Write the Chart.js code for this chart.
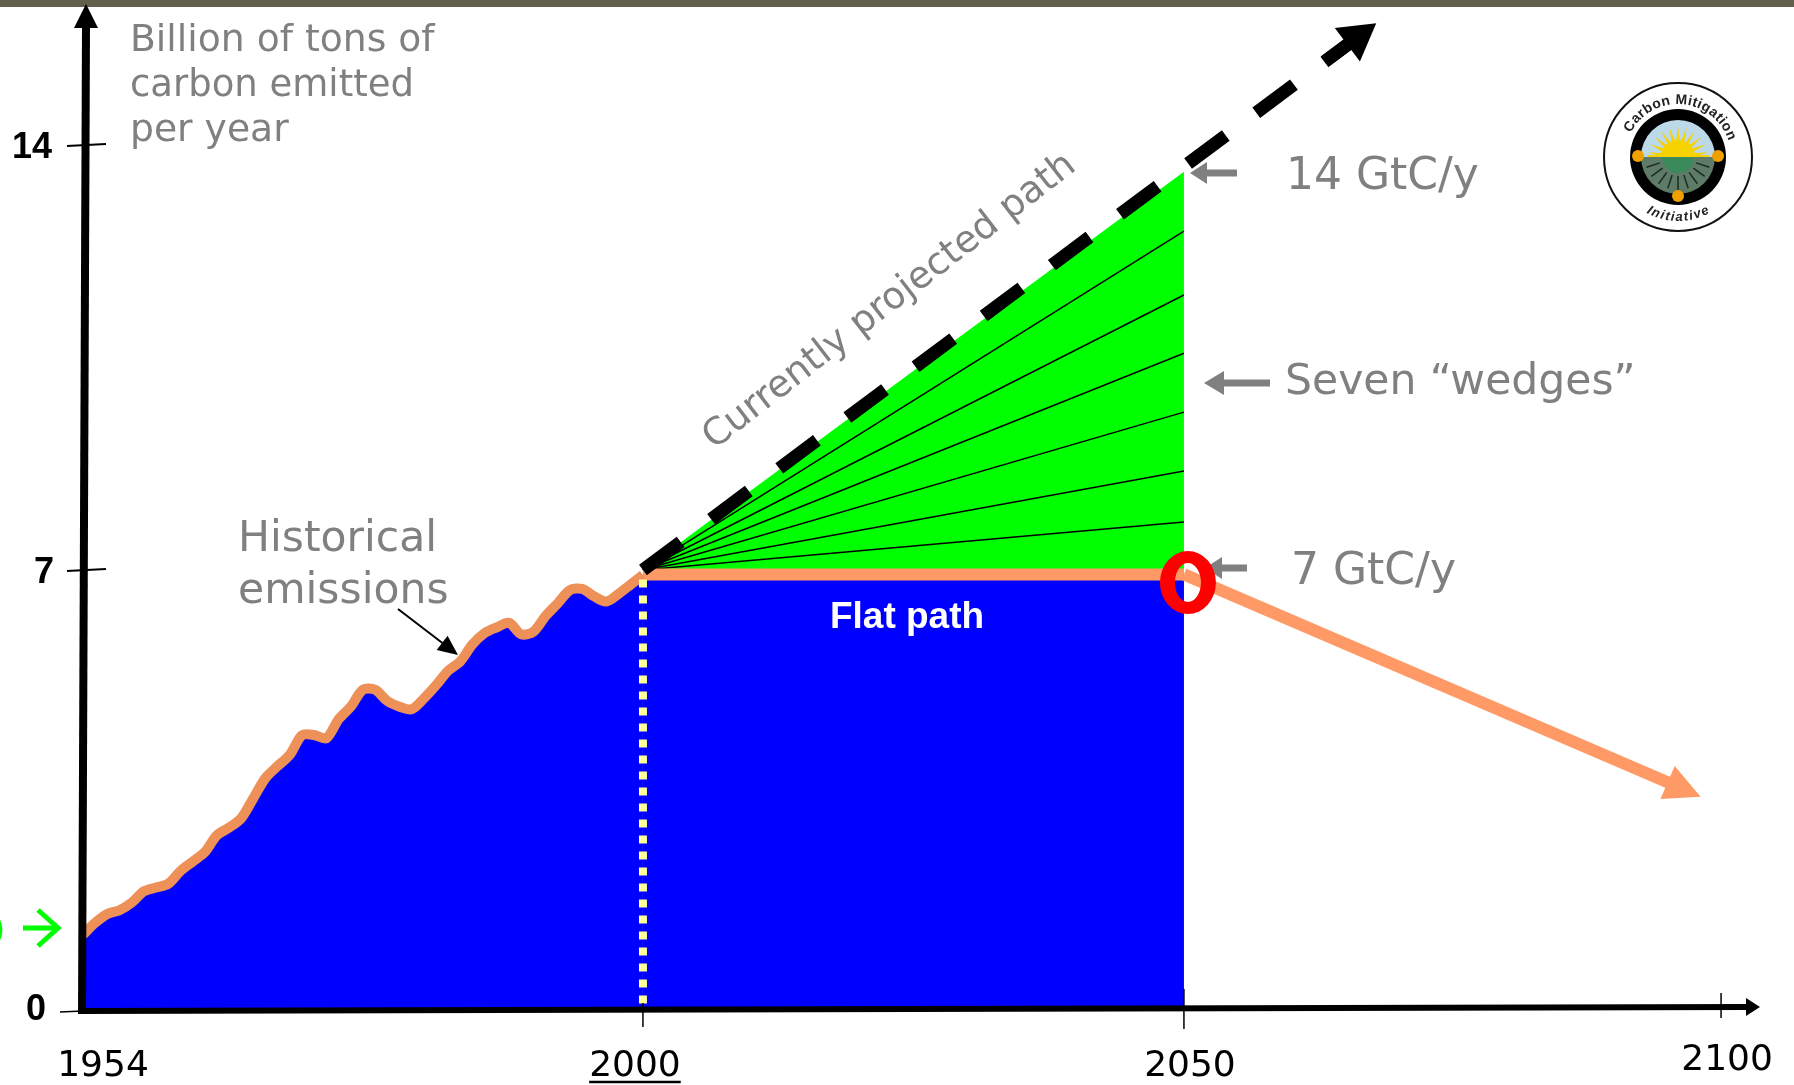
<!DOCTYPE html>
<html>
<head>
<meta charset="utf-8">
<title>Carbon wedges</title>
<style>
  html, body { margin: 0; padding: 0; background: #fff; }
  canvas { display: block; }
</style>
<script src="https://cdn.jsdelivr.net/npm/chart.js@4"></script>
</head>
<body>
<canvas id="myChart" width="1794" height="1085"></canvas>
<script>
const years = [1954, 1955, 1956, 1957, 1958, 1959, 1960, 1961, 1962, 1963, 1964, 1965, 1966, 1967, 1968, 1969,
  1970, 1971, 1972, 1973, 1974, 1975, 1976, 1977, 1978, 1979, 1980, 1981, 1982, 1983, 1984, 1985, 1986, 1987,
  1988, 1989, 1990, 1991, 1992, 1993, 1994, 1995, 1996, 1997, 1998, 1999, 2000]
const historical = [1.21, 1.4, 1.54, 1.6, 1.72, 1.9, 1.96, 2.02, 2.22, 2.37, 2.52, 2.79, 2.91, 3.06, 3.38, 3.7,
  3.89, 4.07, 4.38, 4.38, 4.33, 4.63, 4.83, 5.1, 5.1, 4.92, 4.83, 4.79, 4.96, 5.17, 5.4, 5.55, 5.82, 6.0,
  6.09, 6.16, 5.98, 6.02, 6.27, 6.47, 6.68, 6.7, 6.58, 6.5, 6.62, 6.77, 6.92]

const wedgeYears = [2000, 2050]
const wedgeEnds = [12.58, 11.53, 10.57, 9.6, 8.63, 7.79]
const wedgeStart = 7
const projectedTop = 13.56

const dashYears = [2000, 2067.9]
const dashValues = [7, 16]

const flatYears = [2000, 2050]
const flatValues = [6.93, 6.93]

const declineYears = [2050, 2096]
const declineValues = [6.93, 3.56]
const declineTip = [2098.1, 3.4]

const dottedYears = [2000, 2000]
const dottedValues = [6.85, 0.1]

const xTickYears = [1954, 2000, 2050, 2100]
const yTicks = [0, 7, 14]

const xAnchors = [1954, 2000, 2050, 2100, 2103.7]
const xStops = [0, 0.3337, 0.6561, 0.9762, 1]
const yAnchors = [0, 7, 14, 16.3]
const yStops = [0, 0.4384, 0.8608, 1]

const GRAY = '#808080'
const ORANGE = '#ff9966'
const HIST_ORANGE = '#ee9158'
const SANS = '"DejaVu Sans"'
const BOLD = '"Liberation Sans"'

function stopFraction(value, anchors, stops) {
  let i = 0
  while (i < anchors.length - 2 && value > anchors[i + 1]) i++
  const t = (value - anchors[i]) / (anchors[i + 1] - anchors[i])
  return stops[i] + t * (stops[i + 1] - stops[i])
}

// the picture's axes are not linear: each stretch between ticks has its own length
class AnchoredScale extends Chart.LinearScale {
  getPixelForValue(value) {
    const { anchors, stops } = this.options
    const f = stopFraction(value, anchors, stops)
    return this.isHorizontal() ? this.left + f * this.width : this.bottom - f * this.height
  }
}
AnchoredScale.id = 'anchored'
AnchoredScale.defaults = Chart.LinearScale.defaults
Chart.register(AnchoredScale)

function pairs(xs, ys) {
  return xs.map((x, i) => ({ x, y: ys[i] }))
}

function arrowHead(ctx, x0, y0, x1, y1, length, halfWidth, color) {
  const a = Math.atan2(y1 - y0, x1 - x0)
  ctx.save()
  ctx.translate(x1, y1)
  ctx.rotate(a)
  ctx.fillStyle = color
  ctx.beginPath()
  ctx.moveTo(0, 0)
  ctx.lineTo(-length, -halfWidth)
  ctx.lineTo(-length, halfWidth)
  ctx.closePath()
  ctx.fill()
  ctx.restore()
}

function arrow(ctx, x0, y0, x1, y1, width, length, halfWidth, color) {
  const a = Math.atan2(y1 - y0, x1 - x0)
  ctx.strokeStyle = color
  ctx.lineWidth = width
  ctx.lineCap = 'butt'
  ctx.beginPath()
  ctx.moveTo(x0, y0)
  ctx.lineTo(x1 - Math.cos(a) * length * 0.9, y1 - Math.sin(a) * length * 0.9)
  ctx.stroke()
  arrowHead(ctx, x0, y0, x1, y1, length, halfWidth, color)
}

function segment(ctx, x0, y0, x1, y1, width, color) {
  ctx.strokeStyle = color
  ctx.lineWidth = width
  ctx.beginPath()
  ctx.moveTo(x0, y0)
  ctx.lineTo(x1, y1)
  ctx.stroke()
}

function text(ctx, str, x, y, font, color, align) {
  ctx.font = font
  ctx.fillStyle = color
  ctx.textAlign = align || 'left'
  ctx.textBaseline = 'alphabetic'
  ctx.fillText(str, x, y)
}

function arcText(ctx, str, cx, cy, r, midAngle, gap, bottom) {
  ctx.textAlign = 'center'
  ctx.textBaseline = 'alphabetic'
  const chars = str.split('')
  const sweeps = chars.map((c) => (ctx.measureText(c).width + gap) / r)
  const total = sweeps.reduce((a, b) => a + b, 0)
  let run = -total / 2
  chars.forEach((c, i) => {
    const off = run + sweeps[i] / 2
    run += sweeps[i]
    const a = bottom ? midAngle - off : midAngle + off
    ctx.save()
    ctx.translate(cx + r * Math.cos(a), cy + r * Math.sin(a))
    ctx.rotate(bottom ? a - Math.PI / 2 : a + Math.PI / 2)
    ctx.fillText(c, 0, 0)
    ctx.restore()
  })
}

function drawLogo(ctx, cx, cy) {
  ctx.save()
  ctx.fillStyle = '#fff'
  ctx.strokeStyle = '#111'
  ctx.lineWidth = 2
  ctx.beginPath()
  ctx.arc(cx, cy, 74, 0, Math.PI * 2)
  ctx.fill()
  ctx.stroke()

  ctx.fillStyle = '#000'
  ctx.beginPath()
  ctx.arc(cx, cy, 48, 0, Math.PI * 2)
  ctx.fill()

  ctx.save()
  ctx.beginPath()
  ctx.arc(cx, cy, 37, 0, Math.PI * 2)
  ctx.clip()
  ctx.fillStyle = '#bcd9ea'
  ctx.fillRect(cx - 40, cy - 40, 80, 40)
  ctx.fillStyle = '#5d7b66'
  ctx.fillRect(cx - 40, cy, 80, 40)
  ctx.fillStyle = '#3b8a5c'
  ctx.beginPath()
  ctx.arc(cx, cy, 16, 0, Math.PI)
  ctx.fill()
  ctx.strokeStyle = '#1c2a20'
  ctx.lineWidth = 1.5
  for (let i = 1; i < 10; i++) {
    const a = (i / 10) * Math.PI
    ctx.beginPath()
    ctx.moveTo(cx + 19 * Math.cos(a), cy + 19 * Math.sin(a))
    ctx.lineTo(cx + 33 * Math.cos(a), cy + 33 * Math.sin(a))
    ctx.stroke()
  }
  ctx.fillStyle = '#f6d200'
  ctx.beginPath()
  ctx.arc(cx, cy, 17, Math.PI, 0)
  ctx.fill()
  for (let i = 0; i < 11; i++) {
    const a = Math.PI + ((i + 0.5) / 11) * Math.PI
    ctx.beginPath()
    ctx.moveTo(cx + 15 * Math.cos(a - 0.13), cy + 15 * Math.sin(a - 0.13))
    ctx.lineTo(cx + 31 * Math.cos(a), cy + 31 * Math.sin(a))
    ctx.lineTo(cx + 15 * Math.cos(a + 0.13), cy + 15 * Math.sin(a + 0.13))
    ctx.fill()
  }
  ctx.fillRect(cx - 31, cy - 2, 62, 2)
  ctx.restore()

  ctx.fillStyle = '#f0a000'
  const dots = [[-40, -1], [40, -1], [0, 39]]
  dots.forEach(([dx, dy]) => {
    ctx.beginPath()
    ctx.arc(cx + dx, cy + dy, 6, 0, Math.PI * 2)
    ctx.fill()
  })

  ctx.fillStyle = '#222'
  ctx.font = `bold 14px ${BOLD}`
  arcText(ctx, 'Carbon Mitigation', cx, cy, 53, -1.49, 0.4, false)
  ctx.font = `italic bold 13px ${BOLD}`
  arcText(ctx, 'Initiative', cx, cy, 64, Math.PI / 2, 1.5, true)
  ctx.restore()
}

const annotations = {
  id: 'annotations',
  afterDatasetsDraw(chart) {
    const { ctx, scales: { x, y } } = chart
    ctx.save()

    // arrow heads on the two paths
    const dx0 = x.getPixelForValue(dashYears[0])
    const dy0 = y.getPixelForValue(dashValues[0])
    const dx1 = x.getPixelForValue(dashYears[1])
    const dy1 = y.getPixelForValue(dashValues[1])
    arrow(ctx, dx0 + (dx1 - dx0) * 0.93, dy0 + (dy1 - dy0) * 0.93, dx1, dy1, 13, 36, 21, '#000')
    const ox0 = x.getPixelForValue(declineYears[0])
    const oy0 = y.getPixelForValue(declineValues[0])
    const ox1 = x.getPixelForValue(declineTip[0])
    const oy1 = y.getPixelForValue(declineTip[1])
    arrowHead(ctx, ox0, oy0, ox1, oy1, 36, 18, ORANGE)

    // axes
    const x0 = x.getPixelForValue(xTickYears[0])
    const y0 = y.getPixelForValue(0)
    ctx.lineCap = 'butt'
    segment(ctx, 60, y0 + 1, x0, y0, 1.5, '#000')
    yTicks.slice(1).forEach((t) => {
      const py = y.getPixelForValue(t)
      segment(ctx, x0 - 16, py + 1, x0 + 23, py - 1, 2, '#000')
    })
    segment(ctx, x.getPixelForValue(2000), y0 - 8, x.getPixelForValue(2000), y0 + 16, 1.5, '#000')
    segment(ctx, x.getPixelForValue(2050), y0 - 22, x.getPixelForValue(2050), y0 + 18, 1.5, '#000')
    segment(ctx, x.getPixelForValue(2100), y0 - 18, x.getPixelForValue(2100), y0 + 7, 1.5, '#000')
    segment(ctx, x0 - 3, y0, 1747, y0 - 4, 6, '#000')
    arrowHead(ctx, x0, y0 - 4, 1760, y0 - 4, 14, 9, '#000')
    segment(ctx, x0 - 1, y0 + 3, x0 + 3, 26, 8, '#000')

    // tick labels
    const tickFont = `36px ${SANS}`
    const tickShift = [[20, 0], [-8, 0], [6, 0], [6, -6]]
    xTickYears.forEach((t, i) => {
      const px = x.getPixelForValue(t) + tickShift[i][0]
      const py = 1076 + tickShift[i][1]
      text(ctx, String(t), px, py, tickFont, '#000', 'center')
    })
    const w2000 = ctx.measureText('2000').width
    const u = x.getPixelForValue(2000) + tickShift[1][0]
    segment(ctx, u - w2000 / 2, 1082, u + w2000 / 2, 1082, 2.5, '#000')
    const yFont = `bold 36px ${BOLD}`
    text(ctx, String(yTicks[0]), 46, y.getPixelForValue(0) + 9, yFont, '#000', 'right')
    text(ctx, String(yTicks[1]), 54, y.getPixelForValue(7) + 13, yFont, '#000', 'right')
    text(ctx, String(yTicks[2]), 52, y.getPixelForValue(14) + 13, yFont, '#000', 'right')

    // gray labels
    text(ctx, 'Billion of tons of', 130, 51, `37.7px ${SANS}`, GRAY)
    text(ctx, 'carbon emitted', 130, 96, `37px ${SANS}`, GRAY)
    text(ctx, 'per year', 130, 141, `37.7px ${SANS}`, GRAY)
    const big = `42.5px ${SANS}`
    text(ctx, 'Historical', 238, 551, big, GRAY)
    text(ctx, 'emissions', 238, 603, big, GRAY)
    const gtc = `44px ${SANS}`
    text(ctx, '14 GtC/y', 1286, 189, gtc, GRAY)
    text(ctx, 'Seven “wedges”', 1285, 394, big, GRAY)
    text(ctx, '7 GtC/y', 1291, 584, gtc, GRAY)
    ctx.save()
    ctx.translate(714, 450)
    ctx.rotate(-37.7 * Math.PI / 180)
    text(ctx, 'Currently projected path', 0, 0, `37.5px ${SANS}`, GRAY)
    ctx.restore()
    text(ctx, 'Flat path', 907, 628, `bold 37px ${BOLD}`, '#fff', 'center')

    // pointers
    arrow(ctx, 1237, 173, 1190, 173, 7, 17, 11, GRAY)
    arrow(ctx, 1270, 383, 1204, 383, 7, 20, 12, GRAY)
    arrow(ctx, 1247, 568, 1205, 568, 7, 17, 11, GRAY)
    arrow(ctx, 398, 609, 458, 655, 2, 20, 9, '#000')

    // red O at 2050
    const ox = x.getPixelForValue(2050) + 4
    const oy = y.getPixelForValue(6.8)
    ctx.fillStyle = '#ff0000'
    ctx.beginPath()
    ctx.ellipse(ox, oy, 28, 31.5, 0, 0, Math.PI * 2)
    ctx.ellipse(ox, oy, 13, 19.5, 0, 0, Math.PI * 2)
    ctx.fill('evenodd')

    // green marker cut by the page edge
    segment(ctx, 23, 928, 58, 928, 5, '#00ff00')
    ctx.lineJoin = 'miter'
    ctx.strokeStyle = '#00ff00'
    ctx.lineWidth = 5
    ctx.beginPath()
    ctx.moveTo(38, 910)
    ctx.lineTo(58, 928)
    ctx.lineTo(38, 946)
    ctx.stroke()
    text(ctx, ')', -11, 941, `bold 36px ${SANS}`, '#00ff00')

    drawLogo(ctx, 1678, 157)

    // header rule, the y axis tip sits on top of it
    ctx.fillStyle = '#62604a'
    ctx.fillRect(0, 0, 1794, 7)
    arrowHead(ctx, x0 + 3, y0, x0 + 3, 4, 24, 12, '#000')
    ctx.restore()
  },
}

const wedgeDatasets = wedgeEnds.map((end) => ({
  label: 'wedge',
  data: pairs(wedgeYears, [wedgeStart, end]),
  borderColor: '#000',
  borderWidth: 1.5,
  fill: false,
  order: 8,
}))

const datasets = [
  {
    label: 'Projected area',
    data: pairs(wedgeYears, [wedgeStart, projectedTop]),
    borderColor: '#00ff00',
    borderWidth: 0,
    backgroundColor: '#00ff00',
    fill: 'origin',
    order: 10,
  },
  ...wedgeDatasets,
  {
    label: 'Flat path',
    data: pairs(flatYears, flatValues),
    borderColor: ORANGE,
    borderWidth: 12,
    backgroundColor: '#0000ff',
    fill: 'origin',
    order: 7,
  },
  {
    label: 'Decline',
    data: pairs(declineYears, declineValues),
    borderColor: ORANGE,
    borderWidth: 12,
    fill: false,
    order: 6,
  },
  {
    label: 'Historical emissions',
    data: pairs(years, historical),
    borderColor: HIST_ORANGE,
    borderWidth: 10,
    backgroundColor: '#0000ff',
    fill: 'origin',
    tension: 0.3,
    order: 5,
  },
  {
    label: 'Year 2000',
    data: pairs(dottedYears, dottedValues),
    borderColor: '#ffff99',
    borderWidth: 8,
    borderDash: [8, 8],
    fill: false,
    order: 4,
  },
  {
    label: 'Currently projected path',
    data: pairs(dashYears, dashValues),
    borderColor: '#000',
    borderWidth: 13,
    borderDash: [47, 38],
    fill: false,
    order: 3,
  },
]

function noAxisSpace(scale) {
  if (scale.isHorizontal()) scale.height = 0
  else scale.width = 0
}

new Chart(document.getElementById('myChart'), {
  type: 'line',
  data: { datasets },
  options: {
    responsive: false,
    animation: false,
    parsing: false,
    normalized: true,
    clip: false,
    layout: { padding: { left: 83, right: 33, top: 5, bottom: 74 } },
    elements: { point: { radius: 0 }, line: { tension: 0, borderCapStyle: 'butt', borderJoinStyle: 'round' } },
    plugins: { legend: { display: false }, tooltip: { enabled: false } },
    scales: {
      x: {
        type: 'anchored',
        min: 1954,
        max: 2103.7,
        anchors: xAnchors,
        stops: xStops,
        afterFit: noAxisSpace,
        grid: { display: false },
        border: { display: false },
        ticks: { display: false },
      },
      y: {
        type: 'anchored',
        min: 0,
        max: 16.3,
        anchors: yAnchors,
        stops: yStops,
        afterFit: noAxisSpace,
        grid: { display: false },
        border: { display: false },
        ticks: { display: false },
      },
    },
  },
  plugins: [annotations],
})
</script>
</body>
</html>
